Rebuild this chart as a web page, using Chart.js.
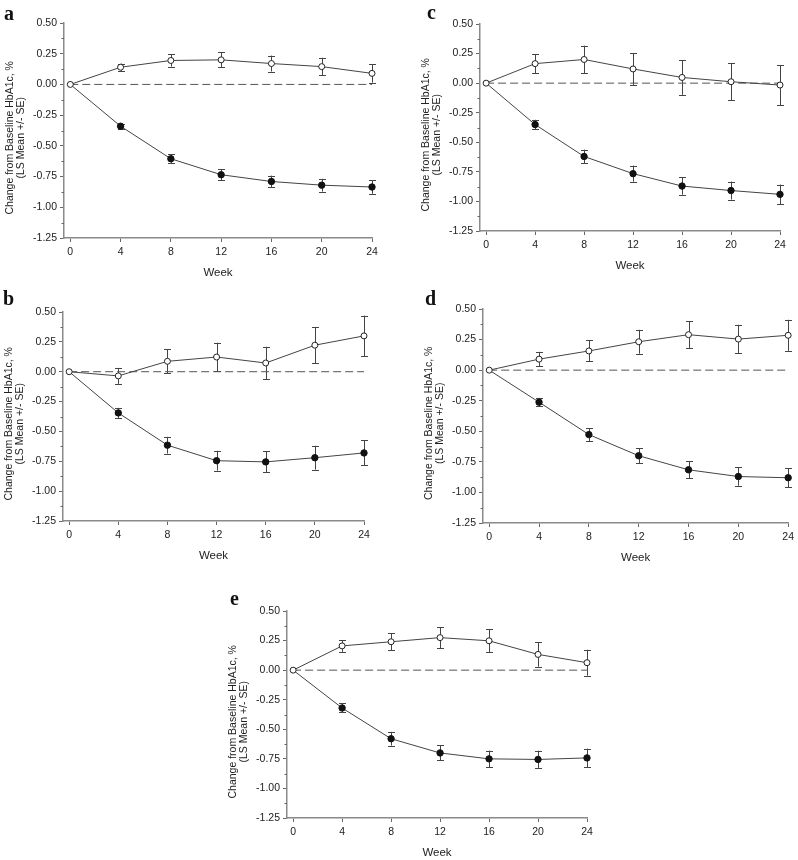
<!DOCTYPE html>
<html>
<head>
<meta charset="utf-8">
<script src="https://cdn.jsdelivr.net/npm/chart.js@4/dist/chart.umd.min.js"></script>
<style>
  body { margin: 0; background: #fff; overflow: hidden; }
  #fig { position: relative; width: 798px; height: 860px; }
  canvas { position: absolute; }
  .tag { position: absolute; font: bold 20px 'Liberation Serif', 'Times New Roman', serif; color: #111; line-height: 1; }
</style>
</head>
<body>
<div id="fig">
  <canvas id="pa"></canvas>
  <canvas id="pb"></canvas>
  <canvas id="pc"></canvas>
  <canvas id="pd"></canvas>
  <canvas id="pe"></canvas>
  <div class="tag" style="left:4px;top:3px">a</div>
  <div class="tag" style="left:427px;top:2px">c</div>
  <div class="tag" style="left:3px;top:288px">b</div>
  <div class="tag" style="left:425px;top:288px">d</div>
  <div class="tag" style="left:230px;top:588px">e</div>
</div>
<script>
// shared axis values
const weeks = [0, 4, 8, 12, 16, 20, 24];
const yTicks = [-1.25, -1.00, -0.75, -0.50, -0.25, 0.00, 0.25, 0.50];
// trailing blanks push the rotated title a little lower, as in the original
const yTitle = ['Change from Baseline HbA1c, %\u00a0\u00a0\u00a0\u00a0\u00a0', '(LS Mean +/- SE)\u00a0\u00a0\u00a0\u00a0\u00a0'];
const xTitle = 'Week';

// panel a
const aOpen = [0, 0.14, 0.195, 0.20, 0.17, 0.145, 0.09];
const aOpenSE = [0, 0.03, 0.05, 0.06, 0.065, 0.072, 0.075];
const aFilled = [0, -0.34, -0.605, -0.735, -0.79, -0.82, -0.835];
const aFilledSE = [0, 0.02, 0.035, 0.045, 0.048, 0.052, 0.055];

// panel b
const bOpen = [0, -0.035, 0.087, 0.123, 0.073, 0.222, 0.30];
const bOpenSE = [0, 0.067, 0.10, 0.12, 0.136, 0.153, 0.17];
const bFilled = [0, -0.345, -0.615, -0.745, -0.755, -0.72, -0.68];
const bFilledSE = [0, 0.042, 0.07, 0.083, 0.088, 0.10, 0.105];

// panel c
const cOpen = [0, 0.165, 0.20, 0.12, 0.048, 0.012, -0.016];
const cOpenSE = [0, 0.08, 0.117, 0.135, 0.147, 0.157, 0.17];
const cFilled = [0, -0.35, -0.62, -0.765, -0.87, -0.908, -0.94];
const cFilledSE = [0, 0.04, 0.058, 0.068, 0.073, 0.076, 0.083];

// panel d
const dOpen = [0, 0.09, 0.157, 0.232, 0.29, 0.254, 0.285];
const dOpenSE = [0, 0.06, 0.086, 0.098, 0.112, 0.117, 0.127];
const dFilled = [0, -0.262, -0.527, -0.70, -0.815, -0.87, -0.88];
const dFilledSE = [0, 0.035, 0.053, 0.063, 0.07, 0.075, 0.078];

// panel e
const eOpen = [0, 0.205, 0.24, 0.275, 0.248, 0.133, 0.063];
const eOpenSE = [0, 0.05, 0.07, 0.088, 0.097, 0.104, 0.11];
const eFilled = [0, -0.32, -0.58, -0.70, -0.75, -0.755, -0.742];
const eFilledSE = [0, 0.038, 0.058, 0.063, 0.07, 0.074, 0.078];

const inkColor = '#444';
const axisColor = '#8a8a8a';
const fontFamily = "'Liberation Sans', Arial, sans-serif";

// error bars under the points
const errorBars = {
    id: 'errorBars',
    beforeDatasetsDraw(chart) {
        const ctx = chart.ctx;
        const xs = chart.scales.x, ys = chart.scales.y;
        ctx.save();
        ctx.strokeStyle = '#444';
        ctx.lineWidth = 1;
        chart.data.datasets.forEach(ds => {
            if (!ds.se) return;
            ds.data.forEach((p, i) => {
                const se = ds.se[i];
                if (!se) return;
                const x = Math.round(xs.getPixelForValue(p.x)) + 0.5;
                const y1 = ys.getPixelForValue(p.y + se);
                const y2 = ys.getPixelForValue(p.y - se);
                ctx.beginPath();
                ctx.moveTo(x, y1); ctx.lineTo(x, y2);
                ctx.moveTo(x - 3.5, Math.round(y1) + 0.5); ctx.lineTo(x + 3.5, Math.round(y1) + 0.5);
                ctx.moveTo(x - 3.5, Math.round(y2) + 0.5); ctx.lineTo(x + 3.5, Math.round(y2) + 0.5);
                ctx.stroke();
            });
        });
        ctx.restore();
    }
};

// small ticks half way between the y labels
const minorTicks = {
    id: 'minorTicks',
    afterDraw(chart) {
        const ctx = chart.ctx;
        const ys = chart.scales.y;
        const x0 = chart.chartArea.left;
        ctx.save();
        ctx.strokeStyle = '#666';
        ctx.lineWidth = 1;
        for (let i = 0; i < yTicks.length - 1; i++) {
            const v = (yTicks[i] + yTicks[i + 1]) / 2;
            const y = Math.round(ys.getPixelForValue(v)) + 0.5;
            ctx.beginPath();
            ctx.moveTo(x0 - 2.5, y); ctx.lineTo(x0, y);
            ctx.stroke();
        }
        ctx.restore();
    }
};

function pts(vals) {
    return weeks.map((w, i) => ({ x: w, y: vals[i] }));
}

function makePanel(id, box, openVals, openSE, filledVals, filledSE) {
    const canvas = document.getElementById(id);
    canvas.width = box.w;
    canvas.height = box.h;
    canvas.style.left = box.left + 'px';
    canvas.style.top = box.top + 'px';

    new Chart(canvas.getContext('2d'), {
        type: 'line',
        data: {
            datasets: [{
                data: pts(openVals),
                se: openSE,
                borderColor: inkColor,
                borderWidth: 1,
                pointRadius: 3,
                pointBackgroundColor: '#fff',
                pointBorderColor: '#222',
                pointBorderWidth: 1,
                clip: false,
                order: 0
            }, {
                data: pts(filledVals),
                se: filledSE,
                borderColor: inkColor,
                borderWidth: 1,
                pointRadius: ctx => ctx.dataIndex === 0 ? 0 : 3.2,
                pointBackgroundColor: '#111',
                pointBorderColor: '#111',
                pointBorderWidth: 1,
                clip: false,
                order: 1
            }, {
                data: [{ x: weeks[0], y: 0 }, { x: weeks[weeks.length - 1], y: 0 }],
                borderColor: '#555',
                borderWidth: 1,
                borderDash: [8, 4],
                pointRadius: 0,
                clip: false,
                order: 2
            }]
        },
        options: {
            responsive: false,
            animation: false,
            layout: { padding: { top: 12, right: box.padR, bottom: 0, left: 0 } },
            plugins: { legend: { display: false }, tooltip: { enabled: false } },
            scales: {
                x: {
                    type: 'linear',
                    min: -0.5,
                    max: 24,
                    afterBuildTicks: s => { s.ticks = weeks.map(v => ({ value: v })); },
                    afterFit: s => { s.height = 42; },
                    ticks: {
                        callback: v => String(v),
                        font: { family: fontFamily, size: 10.5 },
                        color: '#222',
                        padding: 4,
                        maxRotation: 0,
                        autoSkip: false
                    },
                    grid: { drawOnChartArea: false, drawTicks: true, tickLength: 4, color: '#666' },
                    border: { display: true, color: axisColor, width: 1.5 },
                    title: {
                        display: true,
                        text: xTitle,
                        font: { family: fontFamily, size: 11.5, lineHeight: 1.2 },
                        color: '#222',
                        padding: 0
                    }
                },
                y: {
                    min: -1.25,
                    max: 0.5,
                    afterBuildTicks: s => { s.ticks = yTicks.map(v => ({ value: v })); },
                    afterFit: s => { s.width = 64; },
                    ticks: {
                        callback: v => v.toFixed(2),
                        font: { family: fontFamily, size: 10.5 },
                        color: '#222',
                        padding: 3
                    },
                    grid: { drawOnChartArea: false, drawTicks: true, tickLength: 4, color: '#666' },
                    border: { display: true, color: axisColor, width: 1.5 },
                    title: {
                        display: true,
                        text: yTitle,
                        font: { family: fontFamily, size: 10.5, lineHeight: 1.1 },
                        color: '#222',
                        padding: { top: 4, bottom: 0 }
                    }
                }
            }
        },
        plugins: [errorBars, minorTicks]
    });
}

makePanel('pa', { left: 0, top: 11, w: 386, h: 269, padR: 14 }, aOpen, aOpenSE, aFilled, aFilledSE);
makePanel('pc', { left: 416, top: 12, w: 378, h: 261, padR: 14 }, cOpen, cOpenSE, cFilled, cFilledSE);
makePanel('pb', { left: -1, top: 300, w: 379, h: 263, padR: 14 }, bOpen, bOpenSE, bFilled, bFilledSE);
makePanel('pd', { left: 419, top: 297, w: 379, h: 268, padR: 8 }, dOpen, dOpenSE, dFilled, dFilledSE);
makePanel('pe', { left: 223, top: 599, w: 378, h: 261, padR: 14 }, eOpen, eOpenSE, eFilled, eFilledSE);
</script>
</body>
</html>
